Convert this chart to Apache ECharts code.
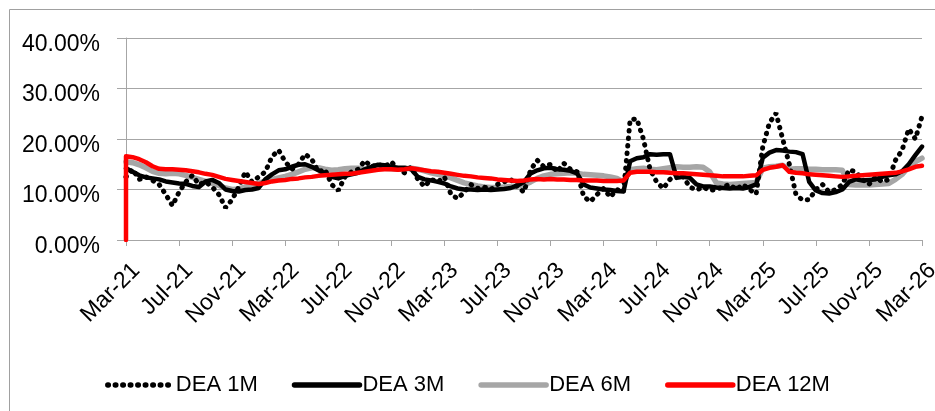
<!DOCTYPE html>
<html>
<head>
<meta charset="utf-8">
<script src="https://cdn.jsdelivr.net/npm/echarts@6/dist/echarts.min.js"></script>
<style>
html,body{margin:0;padding:0;background:#fff;}
#c{width:935px;height:411px;}
</style>
</head>
<body>
<div id="c"></div>
<script>
// x positions: months since Mar-21, half-month sampling
const tickLabels = ['Mar-21','Jul-21','Nov-21','Mar-22','Jul-22','Nov-22','Mar-23','Jul-23','Nov-23','Mar-24','Jul-24','Nov-24','Mar-25','Jul-25','Nov-25','Mar-26'];
const seriesNames = ['DEA 1M','DEA 3M','DEA 6M','DEA 12M'];

const dea1m = [12.5,14.0,12.0,12.5,11.8,11.0,9.0,6.8,9.5,11.5,12.8,11.0,11.5,10.5,9.0,6.4,8.0,10.5,13.5,11.5,
12.5,13.5,16.5,17.8,15.5,14.0,15.0,17.0,16.0,13.5,14.0,11.0,9.8,12.5,13.5,14.0,15.7,14.5,15.0,14.5,
15.5,14.0,13.3,14.5,12.0,10.6,12.0,11.5,12.5,9.0,8.2,9.5,11.0,10.2,10.5,10.0,11.0,11.5,12.0,10.5,
9.5,13.9,15.8,14.5,15.0,13.5,15.2,14.0,13.5,8.6,7.6,9.0,10.2,8.5,10.0,9.5,23.8,24.0,20.0,14.0,
11.5,10.2,12.0,13.0,12.5,10.5,9.9,10.5,9.8,10.0,10.5,11.0,10.0,11.0,10.0,9.1,18.5,23.2,25.1,20.0,
15.0,9.0,7.9,8.0,10.0,11.0,9.5,10.0,11.0,13.9,13.5,12.0,11.0,12.5,11.5,12.0,15.8,17.8,22.0,20.0,24.5];

const dea3m = [14.2,13.5,12.8,12.4,12.2,12.0,11.6,11.4,11.2,11.1,10.7,10.5,11.6,11.9,11.3,10.0,9.7,9.6,9.9,10.0,
10.3,12.0,13.0,13.8,14.0,14.5,14.9,15.0,14.5,13.8,13.2,12.5,12.2,12.7,13.0,13.3,14.0,14.5,14.9,14.8,
14.5,14.3,14.3,14.0,12.5,12.0,11.8,11.5,11.2,10.6,10.2,10.0,10.0,9.9,10.0,9.9,10.0,10.1,10.3,10.8,
11.5,13.2,13.8,14.2,14.3,14.0,13.9,13.7,13.2,11.0,10.4,10.2,10.0,9.9,9.7,9.6,15.6,16.2,16.4,17.0,
16.9,17.0,17.0,12.3,12.5,12.3,11.0,10.6,10.6,10.4,10.3,10.2,10.3,10.2,10.5,11.0,16.3,17.3,17.8,17.7,
17.5,17.4,17.0,11.5,9.8,9.3,9.2,9.5,10.0,11.5,12.0,11.8,11.9,12.0,12.5,12.8,13.0,13.6,15.0,16.8,18.5];

const dea6m = [15.5,15.3,14.9,14.3,13.6,13.2,13.1,13.2,13.1,12.8,12.4,12.0,11.6,11.2,10.8,10.3,10.0,10.1,10.5,10.8,
11.2,11.7,12.0,12.3,12.6,13.0,13.5,14.0,14.3,14.3,14.0,13.8,13.9,14.1,14.2,14.2,14.0,14.1,14.2,14.2,
14.1,14.0,14.1,14.2,14.0,13.7,13.3,13.0,12.7,12.3,11.8,11.3,11.0,10.7,10.5,10.4,10.4,10.5,10.6,10.7,
10.9,11.5,12.2,12.7,13.0,13.1,13.2,13.3,13.2,13.0,12.9,12.8,12.7,12.5,12.2,11.5,13.9,14.1,14.2,14.0,
13.9,14.1,14.3,14.5,14.4,14.4,14.5,14.4,13.5,11.3,11.1,11.0,11.1,11.2,11.3,11.4,14.2,14.5,14.6,14.8,
14.0,14.1,14.1,14.0,14.0,13.9,13.9,13.9,13.8,11.0,10.9,10.9,10.9,11.0,11.1,11.2,12.0,13.0,14.5,15.5,16.2];

const dea12m = [16.6,16.4,16.0,15.4,14.6,14.1,14.0,14.0,13.9,13.8,13.6,13.4,13.1,12.9,12.5,12.1,11.9,11.7,11.5,11.3,
11.1,11.3,11.6,11.8,11.9,12.1,12.2,12.4,12.5,12.7,12.8,12.9,13.0,13.1,13.1,13.3,13.5,13.7,13.9,14.0,
14.0,13.9,14.0,14.2,14.0,13.8,13.6,13.5,13.3,13.1,12.9,12.7,12.6,12.4,12.3,12.2,12.0,11.9,11.8,11.7,
11.8,12.0,12.1,12.0,12.1,12.0,12.0,11.9,11.9,11.8,11.8,11.8,11.7,11.7,11.7,11.8,13.3,13.5,13.5,13.5,
13.4,13.4,13.3,13.2,13.2,13.1,13.0,12.9,12.8,12.7,12.6,12.6,12.6,12.6,12.7,12.8,13.9,14.3,14.5,14.8,
13.5,13.3,13.2,13.0,12.9,12.8,12.7,12.6,12.5,12.6,12.7,12.8,12.9,13.0,13.1,13.2,13.3,13.6,14.0,14.5,14.7];
const dea12mStart = 0;

function pairs(vals){ return vals.map((v,i)=>[i*0.5, v]); }

const font = 'Liberation Sans, Arial, sans-serif';
const chart = echarts.init(document.getElementById('c'), null, {renderer:'canvas'});
const d12 = [[0, dea12mStart]].concat(pairs(dea12m));

chart.setOption({
  animation:false,
  backgroundColor:'#fff',
  graphic:[
    {type:'line', shape:{x1:9.5,y1:9.5,x2:935,y2:9.5}, style:{stroke:'#a0a0a0',lineWidth:1}, silent:true},
    {type:'line', shape:{x1:9.5,y1:9.5,x2:9.5,y2:411}, style:{stroke:'#a0a0a0',lineWidth:1}, silent:true}
  ],
  grid:{left:126, right:13, top:38, bottom:171, containLabel:false, outerBoundsMode:'none'},
  xAxis:{
    type:'value', min:0, max:60, interval:4,
    axisLine:{show:true, lineStyle:{color:'#a6a6a6', width:1}},
    axisTick:{show:true, length:6, inside:false, lineStyle:{color:'#a6a6a6'}},
    splitLine:{show:false},
    axisLabel:{
      rotate:45, margin:21, align:'right', verticalAlign:'top', padding:[0,-3,0,0],
      color:'#000', fontFamily:font, fontSize:23, hideOverlap:false,
      formatter:(v)=>tickLabels[Math.round(v/4)] || ''
    }
  },
  yAxis:{
    type:'value', min:0, max:40, interval:10,
    axisLine:{show:true, lineStyle:{color:'#a6a6a6', width:1}},
    axisTick:{show:true, length:9, lineStyle:{color:'#a6a6a6'}},
    splitLine:{show:true, lineStyle:{color:'#a6a6a6', width:1}},
    axisLabel:{
      margin:26, color:'#000', fontFamily:font, fontSize:23, verticalAlign:'top', lineHeight:13,
      formatter:(v)=>v.toFixed(2)+'%'
    }
  },
  legend:{
    bottom:10, left:'center', itemGap:34, itemWidth:65, itemHeight:14,
    itemStyle:{opacity:0},
    lineStyle:{width:5.5, cap:'round'},
    textStyle:{fontFamily:font, fontSize:22, color:'#000', padding:[0,0,0,-2]},
    data:seriesNames
  },
  series:[
    {name:'DEA 1M', type:'line', symbol:'none', data:pairs(dea1m), z:5,
     lineStyle:{color:'#000', width:5, type:[0.5,7], cap:'round'}, itemStyle:{color:'#000'}},
    {name:'DEA 3M', type:'line', symbol:'none', data:pairs(dea3m), z:4,
     lineStyle:{color:'#000', width:4.5, cap:'round', join:'round'}, itemStyle:{color:'#000'}},
    {name:'DEA 6M', type:'line', symbol:'none', data:pairs(dea6m), z:3,
     lineStyle:{color:'#a6a6a6', width:5.5, cap:'round', join:'round'}, itemStyle:{color:'#a6a6a6'}},
    {name:'DEA 12M', type:'line', symbol:'none', data:d12, z:6,
     lineStyle:{color:'#ff0000', width:4.5, cap:'round', join:'round'}, itemStyle:{color:'#ff0000'}}
  ]
});
</script>
</body>
</html>
